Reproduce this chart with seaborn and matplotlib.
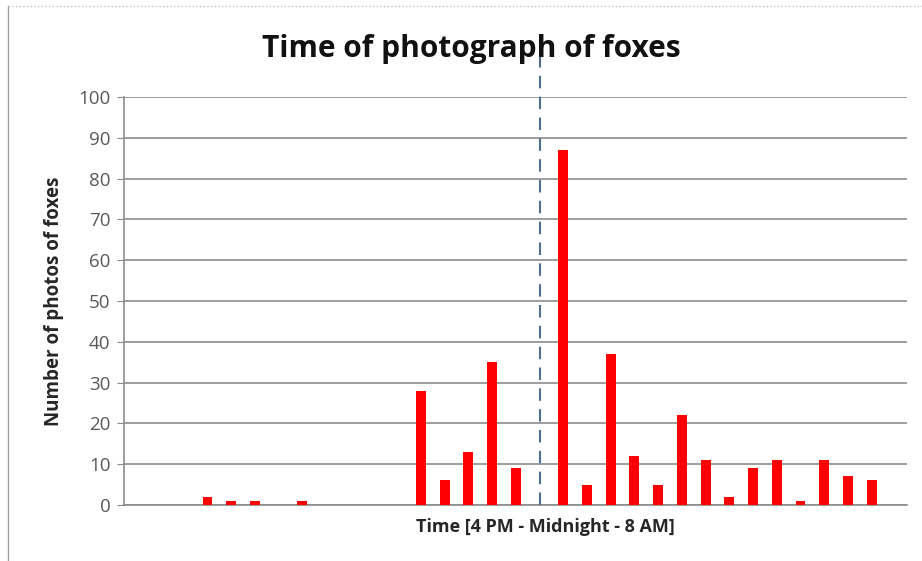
import matplotlib
matplotlib.use("Agg")
import matplotlib.pyplot as plt
import seaborn as sns
import pandas as pd
from matplotlib.lines import Line2D

# half-hour slots from 4 PM to 8 AM (slot 17 = midnight)
slots = list(range(33))
counts = [0, 0, 0, 2, 1, 1, 0, 1, 0, 0, 0, 0,
          28, 6, 13, 35, 9, 0, 87, 5, 37, 12, 5, 22,
          11, 2, 9, 11, 1, 11, 7, 6, 0]
midnight_slot = 17

df = pd.DataFrame({'slot': slots, 'count': counts})

sns.set_style('white')
plt.rcParams['font.family'] = ['Open Sans', 'DejaVu Sans']

fig = plt.figure(figsize=(9.22, 5.61), dpi=100)
ax = fig.add_axes([0.135, 0.100, 0.849, 0.727])

sns.barplot(data=df, x='slot', y='count', color='#ff0000', width=0.42,
            saturation=1, linewidth=0, ax=ax, zorder=3)

ax.set_ylim(0, 100)
ax.set_xlim(-0.5, 32.5)
ax.set_yticks(range(0, 101, 10))
ax.yaxis.grid(True, color='#8c8c8c', linewidth=1.2, zorder=0)
ax.set_axisbelow(True)
ax.set_xticks([])
ax.set_xlabel('')

for side in ['top', 'right']:
    ax.spines[side].set_visible(False)
for side in ['left', 'bottom']:
    ax.spines[side].set_color('#8c8c8c')
    ax.spines[side].set_linewidth(1.2)

ax.tick_params(axis='y', left=True, length=5, color='#8c8c8c',
               labelsize=13.5, labelcolor='#595959', pad=5)

# dashed line at midnight
ax.vlines(midnight_slot, 0, 115, colors='#4f6f8f', linestyles=(0, (6, 4)),
          linewidth=1.5, clip_on=False, zorder=4)

fig.text(0.511, 0.912, 'Time of photograph of foxes', fontsize=21.5,
         fontweight='bold', ha='center', va='center', color='#111111')
fig.text(0.592, 0.060, 'Time [4 PM - Midnight - 8 AM]', fontsize=13,
         fontweight='bold', ha='center', va='center', color='#262626')
ax.set_ylabel('Number of photos of foxes', fontsize=13.5,
              fontweight='bold', color='#262626', labelpad=10)

# chart frame edges
fig.add_artist(Line2D([0.009, 0.009], [0, 0.99], color='#a0a0a0', linewidth=1))
fig.add_artist(Line2D([0.009, 1], [0.99, 0.99], color='#c0c0c0',
                      linewidth=1, linestyle=':'))

plt.savefig('out.png', dpi=100)
